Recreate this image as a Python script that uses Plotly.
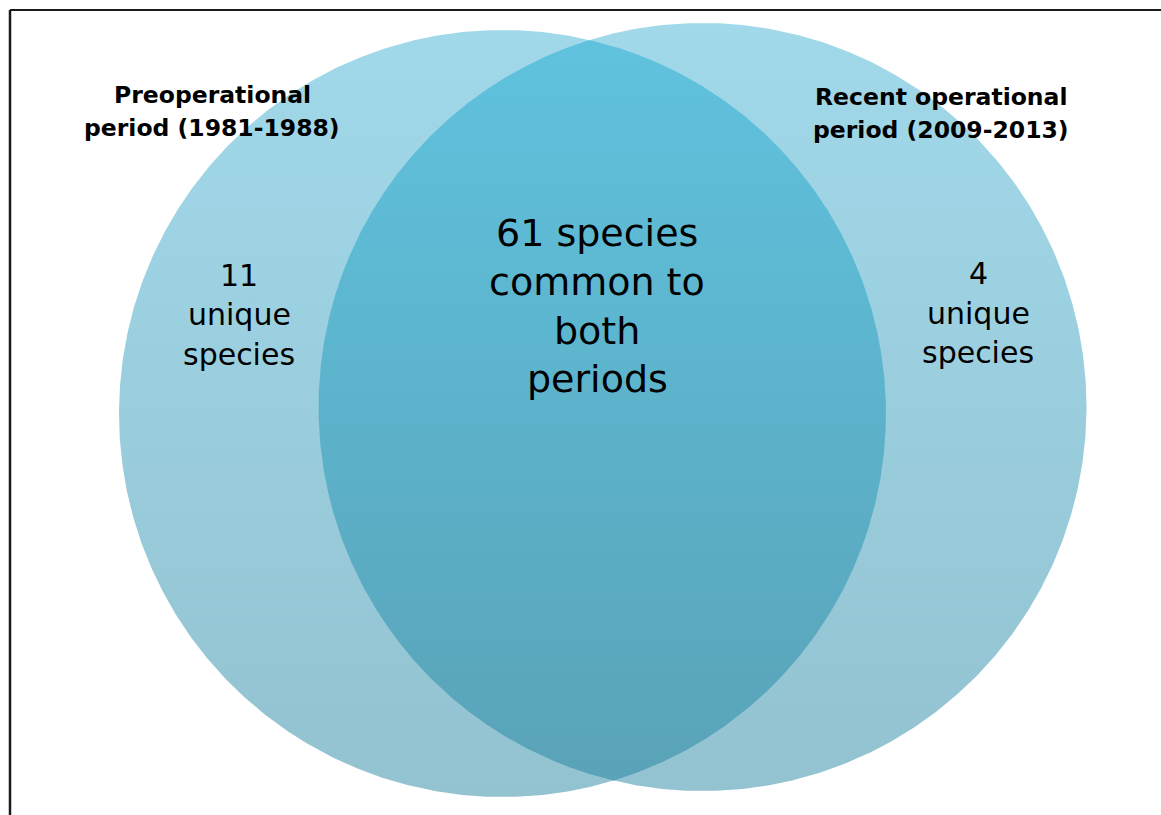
import numpy as np
import plotly.graph_objects as go

W, H = 1161, 815

# ---- data ----
set_names = ["Preoperational\nperiod (1981-1988)", "Recent operational\nperiod (2009-2013)"]
unique_counts = [11, 4]
common_count = 61

# ---- layout geometry (pixel space, y measured from top) ----
circle_centers = [(502.5, 413.5), (702.5, 407.0)]
circle_radius = [383.5, 384.0]

single_colors = ["#a1d9ea", "#93c2d0"]   # top, bottom
overlap_colors = ["#60c3df", "#59a2b7"]  # top, bottom
grad_top_px, grad_bot_px = 20, 800


def Y(py):
    return H - py


def circle_pts(cx, cy, r, t):
    return cx + r * np.cos(t), Y(cy) + r * np.sin(t)


fig = go.Figure()


def grad(colors):
    return dict(type="vertical", start=Y(grad_bot_px), stop=Y(grad_top_px),
                colorscale=[[0, colors[1]], [1, colors[0]]])


t = np.linspace(0, 2 * np.pi, 721)
for (cx, cy), r in zip(circle_centers, circle_radius):
    x, y = circle_pts(cx, cy, r, t)
    fig.add_trace(go.Scatter(x=x, y=y, mode="lines", fill="toself",
                             line=dict(width=0, color="rgba(0,0,0,0)"),
                             fillgradient=grad(single_colors),
                             hoverinfo="skip", showlegend=False))

# lens (intersection)
(ax, ay), (bx, by) = circle_centers
ra, rb = circle_radius
ta = np.linspace(-np.pi, np.pi, 4001)
xa, ya = circle_pts(ax, ay, ra, ta)
ina = (xa - bx) ** 2 + (ya - Y(by)) ** 2 <= rb ** 2
tb = np.linspace(0, 2 * np.pi, 4001)
xb, yb = circle_pts(bx, by, rb, tb)
inb = (xb - ax) ** 2 + (yb - Y(ay)) ** 2 <= ra ** 2
lx = np.concatenate([xa[ina], xb[inb]])
ly = np.concatenate([ya[ina], yb[inb]])
fig.add_trace(go.Scatter(x=lx, y=ly, mode="lines", fill="toself",
                         line=dict(width=0, color="rgba(0,0,0,0)"),
                         fillgradient=grad(overlap_colors),
                         hoverinfo="skip", showlegend=False))

# ---- text ----
def add_lines(lines, cx, ys, size, bold=False):
    for line, py in zip(lines, ys):
        txt = f"<b>{line}</b>" if bold else line
        fig.add_annotation(x=cx, y=Y(py), text=txt, showarrow=False,
                           xanchor="center", yanchor="middle",
                           font=dict(family="DejaVu Sans", size=size, color="#000000"))

add_lines(set_names[0].split("\n"), 212, [95, 128], 23.5, bold=True)
add_lines(set_names[1].split("\n"), 941, [97, 130], 23.5, bold=True)
add_lines([str(unique_counts[0]), "unique", "species"], 239, [275, 314, 354], 30)
add_lines([str(unique_counts[1]), "unique", "species"], 978, [273, 313, 352], 30)
add_lines([f"{common_count} species", "common to", "both", "periods"], 597,
          [233, 282, 331, 379], 38)

# ---- frame lines ----
fig.add_shape(type="line", x0=10, x1=W + 10, y0=Y(10), y1=Y(10),
              line=dict(color="#1a1a1a", width=2))
fig.add_shape(type="line", x0=10, x1=10, y0=Y(10), y1=-10,
              line=dict(color="#1a1a1a", width=2.5))

fig.update_layout(
    width=W, height=H,
    margin=dict(l=0, r=0, t=0, b=0),
    paper_bgcolor="white", plot_bgcolor="white",
    xaxis=dict(range=[0, W], visible=False, fixedrange=True),
    yaxis=dict(range=[0, H], visible=False, fixedrange=True),
    showlegend=False,
)

fig.write_html("out.html", config={"displayModeBar": False},
               post_script="document.body.style.margin='0';document.body.style.overflow='hidden';")
